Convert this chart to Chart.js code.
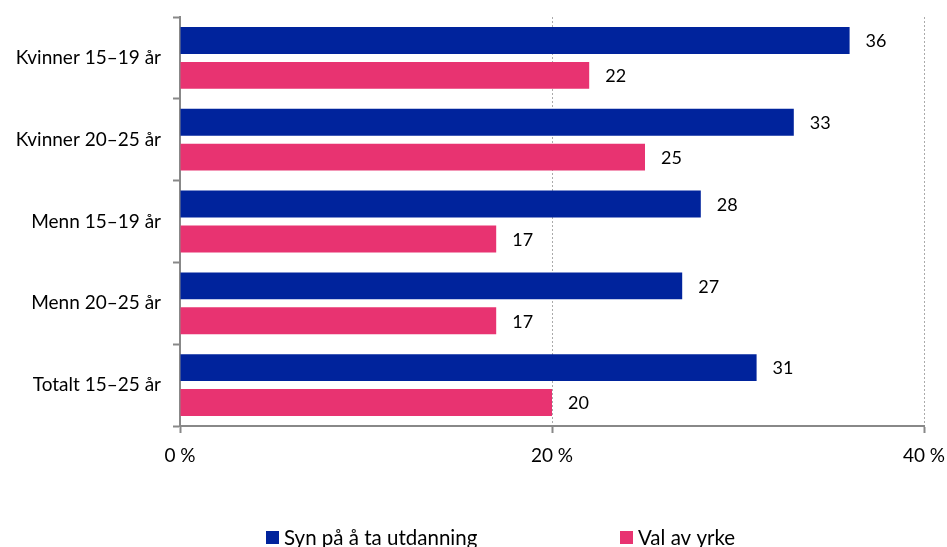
<!DOCTYPE html>
<html><head><meta charset="utf-8">
<script src="https://cdn.jsdelivr.net/npm/chart.js@4"></script>
<style>html,body{margin:0;padding:0;background:#fff}#wrap{width:947px;height:547px}</style>
</head><body><div id="wrap"><canvas id="c" width="947" height="547"></canvas></div>
<script>
const categories = ["Kvinner 15–19 år","Kvinner 20–25 år","Menn 15–19 år","Menn 20–25 år","Totalt 15–25 år"];
const seriesNames = ["Syn på å ta utdanning","Val av yrke"];
const utdanning = [36,33,28,27,31];
const yrke = [22,25,17,17,20];
const xTicks = [0,20,40];
const colors = ["#00239C","#E83371"];
const FONT = "Lato";

const valueLabels = {
  id:'valueLabels',
  afterDatasetsDraw(chart){
    const ctx = chart.ctx;
    ctx.save();
    ctx.font = "18px " + FONT;
    ctx.fillStyle = "#000";
    ctx.textBaseline = "middle";
    ctx.textAlign = "left";
    chart.data.datasets.forEach((ds,i)=>{
      chart.getDatasetMeta(i).data.forEach((bar,j)=>{
        ctx.fillText(String(ds.data[j]), bar.x + 16, bar.y + 1);
      });
    });
    ctx.restore();
  }
};
const legendPlugin = {
  id:'customLegend',
  afterDraw(chart){
    const ctx = chart.ctx;
    ctx.save();
    ctx.font = "20.5px " + FONT;
    ctx.textBaseline = "middle";
    ctx.textAlign = "left";
    const xs = [266, 620];
    chart.data.datasets.forEach((ds,i)=>{
      ctx.fillStyle = ds.backgroundColor;
      ctx.fillRect(xs[i], 531, 13, 13);
      ctx.fillStyle = "#000";
      ctx.fillText(ds.label, xs[i]+18, 538);
    });
    ctx.restore();
  }
};
function noPad(s){ s.paddingLeft=0; s.paddingRight=0; s.paddingTop=0; s.paddingBottom=0; }

new Chart(document.getElementById('c'), {
  type:'bar',
  data:{
    labels: categories,
    datasets:[
      {label:seriesNames[0], data:utdanning, backgroundColor:colors[0]},
      {label:seriesNames[1], data:yrke, backgroundColor:colors[1]}
    ]
  },
  options:{
    indexAxis:'y',
    responsive:false,
    animation:false,
    categoryPercentage:0.854,
    barPercentage:0.77,
    layout:{padding:{top:17,right:23,bottom:0,left:0}},
    plugins:{legend:{display:false},tooltip:{enabled:false}},
    scales:{
      x:{
        min:0,max:40,
        afterBuildTicks(s){ s.ticks = xTicks.map(v=>({value:v})); },
        afterFit(s){ s.height = 121; noPad(s); },
        ticks:{callback:v=>v+" %", font:{family:FONT,size:19}, color:"#000", padding:11, maxRotation:0},
        grid:{
          color:(c)=> c.tick && c.tick.value===0 ? "rgba(0,0,0,0)" : "#aaaaaa",
          lineWidth:1,
          drawTicks:true, tickLength:7, tickColor:"#888", tickWidth:2, tickBorderDash:[]
        },
        border:{display:true,color:"#888",width:2,dash:[2,2]}
      },
      y:{
        afterFit(s){ s.width = 180; noPad(s); },
        ticks:{font:{family:FONT,size:19}, color:"#000", padding:12},
        grid:{offset:true, drawOnChartArea:false, drawTicks:true, tickLength:7, tickColor:"#888", tickWidth:2},
        border:{display:true,color:"#888",width:2}
      }
    }
  },
  plugins:[valueLabels, legendPlugin]
});
</script></body></html>
